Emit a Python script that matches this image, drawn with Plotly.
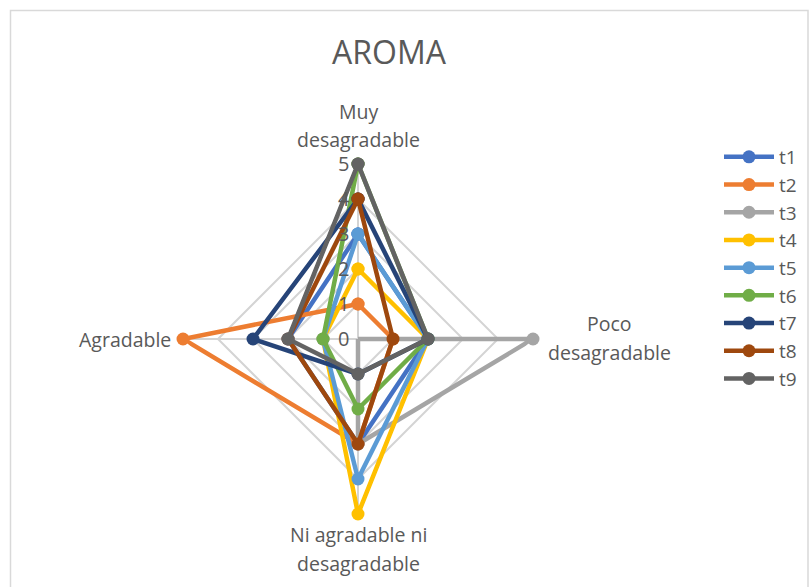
import plotly.graph_objects as go

categories = ["Muy<br>desagradable", "Poco<br>desagradable", "Ni agradable ni<br>desagradable", "Agradable"]
series_names = ["t1", "t2", "t3", "t4", "t5", "t6", "t7", "t8", "t9"]
t1 = [3, 2, 3, 2]
t2 = [1, 1, 3, 5]
t3 = [0, 5, 3, 0]
t4 = [2, 2, 5, 1]
t5 = [3, 2, 4, 1]
t6 = [5, 2, 2, 1]
t7 = [4, 2, 1, 3]
t8 = [4, 1, 3, 2]
t9 = [5, 2, 1, 2]
series_values = [t1, t2, t3, t4, t5, t6, t7, t8, t9]
colors = ["#4472C4", "#ED7D31", "#A5A5A5", "#FFC000", "#5B9BD5", "#70AD47", "#264478", "#9E480E", "#636363"]
radial_ticks = [0, 1, 2, 3, 4, 5]

fig = go.Figure()
for name, vals, col in zip(series_names, series_values, colors):
    fig.add_trace(go.Scatterpolar(
        r=vals + [vals[0]],
        theta=categories + [categories[0]],
        mode="lines+markers",
        name=name,
        line=dict(color=col, width=4.5),
        marker=dict(color=col, size=13),
    ))

W, H = 809, 587
cx, cy, rad = 358, 339, 175


def px(x):
    return x / W


def py(y):
    return 1 - y / H


FS = 19.5
LH = 29
# (label, anchor x, first-line centre y, xanchor)
label_pos = [
    (categories[0], cx, 111, "center"),
    (categories[1], 609, 323, "center"),
    (categories[2], cx, 534, "center"),
    (categories[3], 173, cy, "right"),
]
annotations = []
for text, ax, ay, xa in label_pos:
    for i, line in enumerate(text.split("<br>")):
        annotations.append(dict(text=line, x=px(ax), y=py(ay + i * LH), xanchor=xa, yanchor="middle",
                                xref="paper", yref="paper", showarrow=False,
                                font=dict(size=FS, color="#595959", family="Open Sans")))

fig.update_layout(
    width=W, height=H,
    margin=dict(l=0, r=0, t=0, b=0),
    paper_bgcolor="white",
    font=dict(family="Open Sans", color="#595959"),
    title=dict(text="AROMA", x=px(389), xanchor="center", y=py(53), yanchor="middle",
               font=dict(size=32, color="#595959", family="Open Sans")),
    polar=dict(
        domain=dict(x=[px(cx - rad), px(cx + rad)], y=[py(cy + rad), py(cy - rad)]),
        bgcolor="white",
        gridshape="linear",
        angularaxis=dict(direction="clockwise", rotation=90, showline=False,
                         gridcolor="#D4D4D4", gridwidth=1.5, ticks="", showticklabels=False),
        radialaxis=dict(range=[0, 5], tickvals=radial_ticks, angle=90, tickangle=90,
                        side="counterclockwise",
                        showline=False, gridcolor="#D4D4D4", gridwidth=1.5,
                        ticks="outside", ticklen=1, tickcolor="rgba(0,0,0,0)",
                        tickfont=dict(size=20, color="#595959")),
    ),
    legend=dict(x=px(719), y=py(138), xanchor="left", yanchor="top",
                font=dict(size=19, color="#595959"), tracegroupgap=0,
                itemwidth=50, bgcolor="rgba(0,0,0,0)"),
    annotations=annotations,
    shapes=[dict(type="rect", xref="paper", yref="paper", x0=px(10.5), x1=px(808), y0=-0.01, y1=py(10.5),
                 line=dict(color="#D9D9D9", width=1.5), fillcolor="rgba(0,0,0,0)")],
)

fig.write_html("out.html", config={"displayModeBar": False},
               post_script="document.body.style.margin='0';")
